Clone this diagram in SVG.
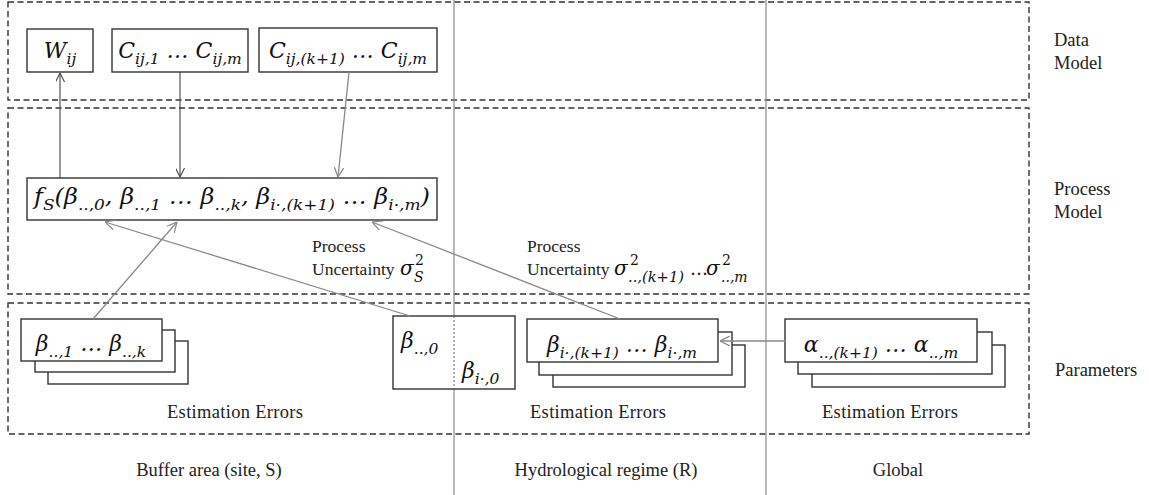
<svg xmlns="http://www.w3.org/2000/svg" width="1149" height="495" viewBox="0 0 1149 495">
<defs>
<style>
.zone{fill:none;stroke:#333;stroke-width:1.4;stroke-dasharray:6 3.5}
.vline{stroke:#8a8a8a;stroke-width:1.2;fill:none}
.box{fill:#fff;stroke:#333;stroke-width:1.4}
.lbl{font-family:'Liberation Serif','DejaVu Serif',serif;font-size:18.5px;fill:#222}
.pl{font-size:17.5px}
.m{font-family:'DejaVu Serif','Liberation Serif',serif;font-style:italic;font-size:22px;fill:#111}
.s{font-size:15.5px}
.sm{font-family:'DejaVu Serif','Liberation Serif',serif;font-style:italic;font-size:14px;fill:#111}
.up{font-family:'DejaVu Serif','Liberation Serif',serif;font-style:normal;font-size:14px;fill:#111}
.c1{stroke:#444;stroke-width:1.1;fill:none}
.c2{stroke:#888;stroke-width:1.3;fill:none}
</style>
<marker id="ah" viewBox="0 0 10 10" refX="10" refY="5" markerWidth="9" markerHeight="9" markerUnits="userSpaceOnUse" orient="auto">
<path d="M0,0 L10,5 L0,10" fill="none" stroke="#444" stroke-width="1.2"/>
</marker>
<marker id="ahg" viewBox="0 0 10 10" refX="10" refY="5" markerWidth="10" markerHeight="10" markerUnits="userSpaceOnUse" orient="auto">
<path d="M0,0 L10,5 L0,10" fill="none" stroke="#888" stroke-width="1.2"/>
</marker>
</defs>
<rect width="1149" height="495" fill="#fff"/>

<g id="zones">
<rect class="zone" x="8" y="2" width="1021" height="98"/>
<rect class="zone" x="8" y="108" width="1021" height="186"/>
<rect class="zone" x="8" y="303" width="1021" height="131"/>
<line class="vline" x1="454" y1="0" x2="454" y2="495"/>
<line class="vline" x1="766" y1="0" x2="766" y2="495"/>
</g>

<g id="zone-labels" class="lbl">
<text x="1054" y="46">Data</text>
<text x="1054" y="69">Model</text>
<text x="1054" y="195">Process</text>
<text x="1054" y="218">Model</text>
<text x="1055" y="376">Parameters</text>
<text x="209" y="476" text-anchor="middle">Buffer area (site, S)</text>
<text x="606" y="476" text-anchor="middle">Hydrological regime (R)</text>
<text x="898" y="476" text-anchor="middle">Global</text>
</g>

<g id="node-W">
<rect class="box" x="27" y="29" width="66" height="43"/>
<text class="m" x="60" y="58" text-anchor="middle">W<tspan class="s" dy="6">ij</tspan></text>
</g>
<g id="node-C1">
<rect class="box" x="112" y="29" width="136" height="43"/>
<text class="m" x="180" y="58" text-anchor="middle">C<tspan class="s" dy="6">ij,1</tspan><tspan dy="-6"> … C</tspan><tspan class="s" dy="6">ij,m</tspan></text>
</g>
<g id="node-Ck">
<rect class="box" x="259" y="28" width="178" height="44"/>
<text class="m" x="348" y="58" text-anchor="middle">C<tspan class="s" dy="6">ij,(k+1)</tspan><tspan dy="-6"> … C</tspan><tspan class="s" dy="6">ij,m</tspan></text>
</g>

<g id="node-fS">
<rect class="box" x="27" y="178" width="410" height="42"/>
<text class="m" x="232" y="204" text-anchor="middle" textLength="396" lengthAdjust="spacingAndGlyphs">f<tspan class="s" dy="6">S</tspan><tspan dy="-6">(β</tspan><tspan class="s" dy="6">..,0</tspan><tspan dy="-6">, β</tspan><tspan class="s" dy="6">..,1</tspan><tspan dy="-6"> … β</tspan><tspan class="s" dy="6">..,k</tspan><tspan dy="-6">, β</tspan><tspan class="s" dy="6">i·,(k+1)</tspan><tspan dy="-6"> … β</tspan><tspan class="s" dy="6">i·,m</tspan><tspan dy="-6">)</tspan></text>
</g>

<g id="label-unc-S">
<text class="lbl pl" x="312" y="252">Process</text>
<text class="lbl pl" x="312" y="275">Uncertainty</text>
<text class="m" x="400" y="275" style="font-size:20px">σ</text>
<text class="up" x="415" y="265">2</text>
<text class="sm" x="414" y="282">S</text>
</g>
<g id="label-unc-R">
<text class="lbl pl" x="527" y="252">Process</text>
<text class="lbl pl" x="527" y="275">Uncertainty</text>
<text class="m" x="614" y="275" style="font-size:20px">σ</text>
<text class="up" x="630" y="265">2</text>
<text class="sm" x="628" y="282" textLength="56" lengthAdjust="spacingAndGlyphs">..,(k+1)</text>
<text class="m" x="690" y="275" style="font-size:18px;font-style:normal">…</text>
<text class="m" x="706" y="275" style="font-size:20px">σ</text>
<text class="up" x="722" y="265">2</text>
<text class="sm" x="721" y="282">..,m</text>
</g>

<g id="node-beta1k">
<rect class="box" x="48" y="341" width="140" height="43"/>
<rect class="box" x="35" y="330" width="140" height="42"/>
<rect class="box" x="21" y="319" width="141" height="42"/>
<text class="m" x="91" y="351" text-anchor="middle">β<tspan class="s" dy="6">..,1</tspan><tspan dy="-6"> … β</tspan><tspan class="s" dy="6">..,k</tspan></text>
<text class="lbl" x="235" y="418" text-anchor="middle" textLength="136">Estimation  Errors</text>
</g>

<g id="node-beta0">
<rect class="box" x="393" y="316" width="122" height="73"/>
<line x1="454" y1="316" x2="454" y2="389" stroke="#666" stroke-width="1" stroke-dasharray="2 2"/>
<text class="m" x="401" y="348">β<tspan class="s" dy="6">..,0</tspan></text>
<text class="m" x="462" y="378">β<tspan class="s" dy="6">i·,0</tspan></text>
</g>

<g id="node-betaRk">
<rect class="box" x="553" y="345" width="192" height="42"/>
<rect class="box" x="539" y="332" width="193" height="43"/>
<rect class="box" x="527" y="319" width="191" height="43"/>
<text class="m" x="622" y="352" text-anchor="middle">β<tspan class="s" dy="6">i·,(k+1)</tspan><tspan dy="-6"> … β</tspan><tspan class="s" dy="6">i·,m</tspan></text>
<text class="lbl" x="598" y="418" text-anchor="middle" textLength="136">Estimation  Errors</text>
</g>

<g id="node-alpha">
<rect class="box" x="812" y="345" width="193" height="42"/>
<rect class="box" x="798" y="332" width="194" height="42"/>
<rect class="box" x="785" y="319" width="192" height="43"/>
<text class="m" x="881" y="352" text-anchor="middle">α<tspan class="s" dy="6">..,(k+1)</tspan><tspan dy="-6"> … α</tspan><tspan class="s" dy="6">..,m</tspan></text>
<text class="lbl" x="890" y="418" text-anchor="middle" textLength="136">Estimation  Errors</text>
</g>

<g id="connectors">
<line class="c1" x1="60" y1="178" x2="60" y2="73" marker-end="url(#ah)"/>
<line class="c1" x1="180" y1="72" x2="180" y2="177" marker-end="url(#ah)"/>
<line class="c2" x1="349" y1="72" x2="338" y2="177" marker-end="url(#ahg)"/>
<line class="c2" x1="93" y1="319" x2="177" y2="222" marker-end="url(#ahg)"/>
<line class="c2" x1="410" y1="316" x2="105" y2="222" marker-end="url(#ahg)"/>
<line class="c2" x1="620" y1="319" x2="372" y2="222" marker-end="url(#ahg)"/>
<line class="c2" x1="785" y1="341" x2="720" y2="341" marker-end="url(#ahg)"/>
</g>
</svg>
